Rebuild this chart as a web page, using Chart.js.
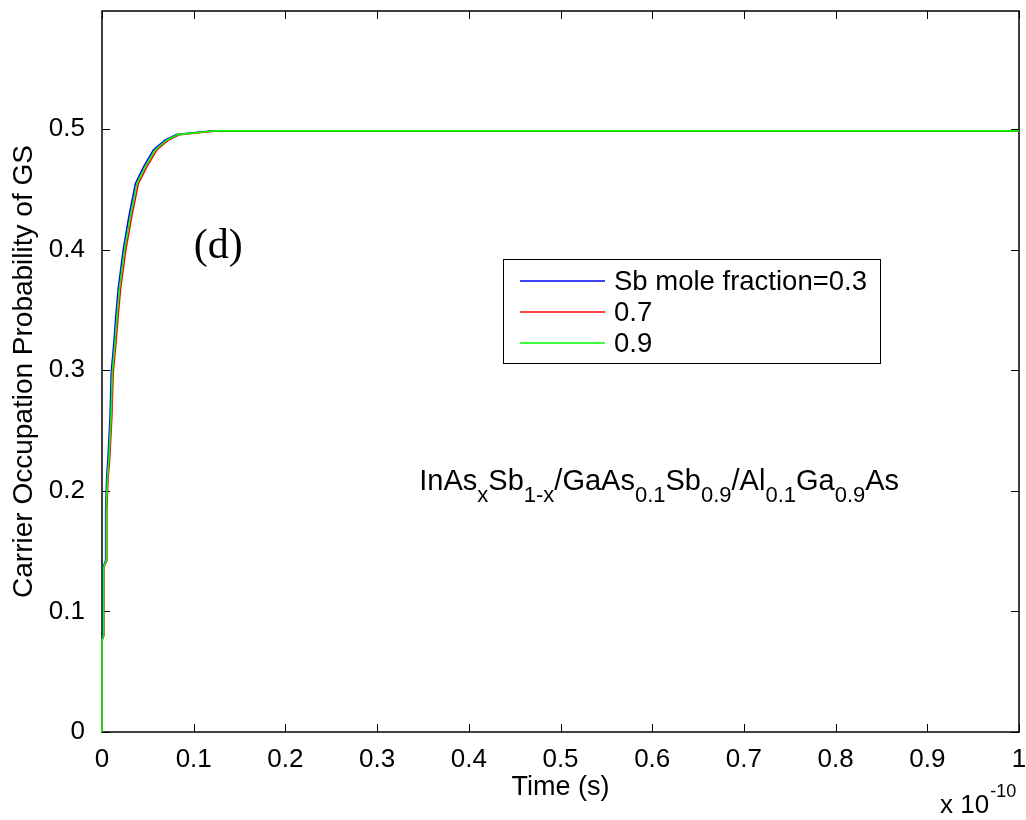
<!DOCTYPE html>
<html><head><meta charset="utf-8">
<script src="https://cdn.jsdelivr.net/npm/chart.js@4/dist/chart.umd.min.js"></script>
<style>html,body{margin:0;padding:0;background:#fff}#wrap{width:1026px;height:820px}</style>
</head><body><div id="wrap"><canvas id="c" width="1026" height="820"></canvas></div>
<script>
// ---- data (time in units of 1e-10 s) ----
const seriesLabels = ['Sb mole fraction=0.3', '0.7', '0.9'];
const seriesColors = ['#0000ff', '#ff0000', '#00ff00'];
const prob = [0, 0.076, 0.080, 0.137, 0.142, 0.184, 0.209, 0.228, 0.261, 0.298, 0.323, 0.344, 0.367, 0.400, 0.427, 0.455, 0.469, 0.483, 0.491, 0.4955, 0.4978, 0.4986, 0.4986];
const timeBlue  = [0, 0, 0.0012, 0.0012, 0.0040, 0.0040, 0.0050, 0.0066, 0.0088, 0.0101, 0.0130, 0.0150, 0.0176, 0.0232, 0.0292, 0.0365, 0.0455, 0.0562, 0.0690, 0.0815, 0.1100, 0.1230, 1.0];
const timeRed   = [0, 0, 0.0021, 0.0021, 0.0053, 0.0053, 0.0065, 0.0085, 0.0107, 0.0122, 0.0153, 0.0175, 0.0202, 0.0260, 0.0323, 0.0397, 0.0490, 0.0600, 0.0726, 0.0850, 0.1150, 0.1270, 1.0];
const timeGreen = [0, 0, 0.0017, 0.0017, 0.0047, 0.0047, 0.0058, 0.0076, 0.0098, 0.0112, 0.0142, 0.0163, 0.0189, 0.0246, 0.0308, 0.0381, 0.0472, 0.0581, 0.0708, 0.0832, 0.1126, 0.1250, 1.0];
const xLabel = 'Time (s)';
const yLabel = 'Carrier Occupation Probability of GS';
const panelLabel = '(d)';
const formulaParts = [['InAs',0],['x',1],['Sb',0],['1-x',1],['/GaAs',0],['0.1',1],['Sb',0],['0.9',1],['/Al',0],['0.1',1],['Ga',0],['0.9',1],['As',0]];

const FONT = '"Liberation Sans", Arial, Helvetica, sans-serif';
const toPts = (ts) => ts.map((t, i) => ({x: t, y: prob[i]}));
const times = [timeBlue, timeRed, timeGreen];

const frame = {
  id: 'frame',
  beforeDraw(chart) {
    const c = chart.ctx; c.save(); c.fillStyle = '#fff'; c.fillRect(0, 0, chart.width, chart.height); c.restore();
  },
  beforeDatasetsDraw(chart) {
    const {ctx, chartArea: a, scales: {x, y}} = chart;
    ctx.save();
    ctx.strokeStyle = '#000';
    ctx.lineWidth = 1.5;
    ctx.strokeRect(a.left, a.top, a.right - a.left, a.bottom - a.top);
    ctx.lineWidth = 1;
    const L = 8;
    const ln = (x1, y1, x2, y2) => { ctx.beginPath(); ctx.moveTo(x1, y1); ctx.lineTo(x2, y2); ctx.stroke(); };
    x.ticks.forEach(t => { const p = Math.round(x.getPixelForValue(t.value)) + 0.5; ln(p, a.bottom, p, a.bottom - L); ln(p, a.top, p, a.top + L); });
    y.ticks.forEach(t => { const p = Math.round(y.getPixelForValue(t.value)) + 0.5; ln(a.left, p, a.left + L, p); ln(a.right, p, a.right - L, p); });
    ctx.restore();
  },
  afterDraw(chart) {
    const {ctx, scales: {x, y}} = chart;
    ctx.save();
    // panel label
    ctx.fillStyle = '#000';
    ctx.font = '42px "Liberation Serif", "Times New Roman", serif';
    ctx.textBaseline = 'alphabetic';
    ctx.fillText(panelLabel, x.getPixelForValue(0.1), y.getPixelForValue(0.3935));
    // legend
    const bx = 503, by = 259, bw = 377, bh = 104;
    ctx.fillStyle = '#fff'; ctx.fillRect(bx, by, bw, bh);
    ctx.strokeStyle = '#000'; ctx.lineWidth = 1; ctx.strokeRect(bx + 0.5, by + 0.5, bw, bh);
    ctx.font = '27.5px ' + FONT; ctx.textBaseline = 'middle';
    chart.data.datasets.forEach((ds, i) => {
      const ry = by + 22 + i * 31;
      ctx.strokeStyle = ds.borderColor; ctx.lineWidth = 1.6;
      ctx.beginPath(); ctx.moveTo(520, ry); ctx.lineTo(605, ry); ctx.stroke();
      ctx.fillStyle = '#000'; ctx.fillText(ds.label, 614, ry + 1);
    });
    // formula annotation
    let fx = x.getPixelForValue(0.346), fy = y.getPixelForValue(0.2007);
    ctx.textBaseline = 'alphabetic';
    formulaParts.forEach(([txt, sub]) => {
      ctx.font = (sub ? '22px ' : '29px ') + FONT;
      ctx.fillText(txt, fx, fy + (sub ? 11.5 : 0));
      fx += ctx.measureText(txt).width;
    });
    // exponent
    ctx.font = '26px ' + FONT;
    ctx.fillText('x 10', 940, 813);
    const w = 940 + ctx.measureText('x 10').width + 1;
    ctx.font = '18px ' + FONT;
    ctx.fillText('-10', w, 797);
    ctx.restore();
  }
};

new Chart(document.getElementById('c'), {
  type: 'line',
  data: {
    datasets: times.map((ts, i) => ({
      label: seriesLabels[i],
      data: toPts(ts),
      borderColor: seriesColors[i],
      borderWidth: 1.6,
      pointRadius: 0,
      tension: 0,
      clip: false,
      order: 2 - i
    }))
  },
  options: {
    responsive: false,
    animation: false,
    events: [],
    layout: {padding: {top: 11, right: 7, left: 0, bottom: 0}},
    plugins: {legend: {display: false}, tooltip: {enabled: false}},
    scales: {
      x: {
        type: 'linear', min: 0, max: 1,
        grid: {display: false}, border: {display: false},
        ticks: {stepSize: 0.1, padding: 4, color: '#000', font: {family: FONT, size: 26}, maxRotation: 0,
          callback: v => String(Math.round(v * 10) / 10)},
        title: {display: true, text: xLabel, color: '#000', font: {family: FONT, size: 27}, padding: {top: 0, bottom: 16}},
        afterFit: s => { s.height = 88; s.paddingLeft = 0; s.paddingRight = 0; }
      },
      y: {
        type: 'linear', min: 0, max: 0.598, bounds: 'data',
        grid: {display: false}, border: {display: false},
        ticks: {stepSize: 0.1, includeBounds: false, padding: 9, color: '#000', font: {family: FONT, size: 26},
          callback: v => String(Math.round(v * 10) / 10)},
        title: {display: true, text: yLabel, color: '#000', font: {family: FONT, size: 28}, padding: {top: 7, bottom: 0}},
        afterFit: s => { s.width = 102; s.paddingTop = 0; s.paddingBottom = 0; }
      }
    }
  },
  plugins: [frame]
});
</script>
</body></html>
